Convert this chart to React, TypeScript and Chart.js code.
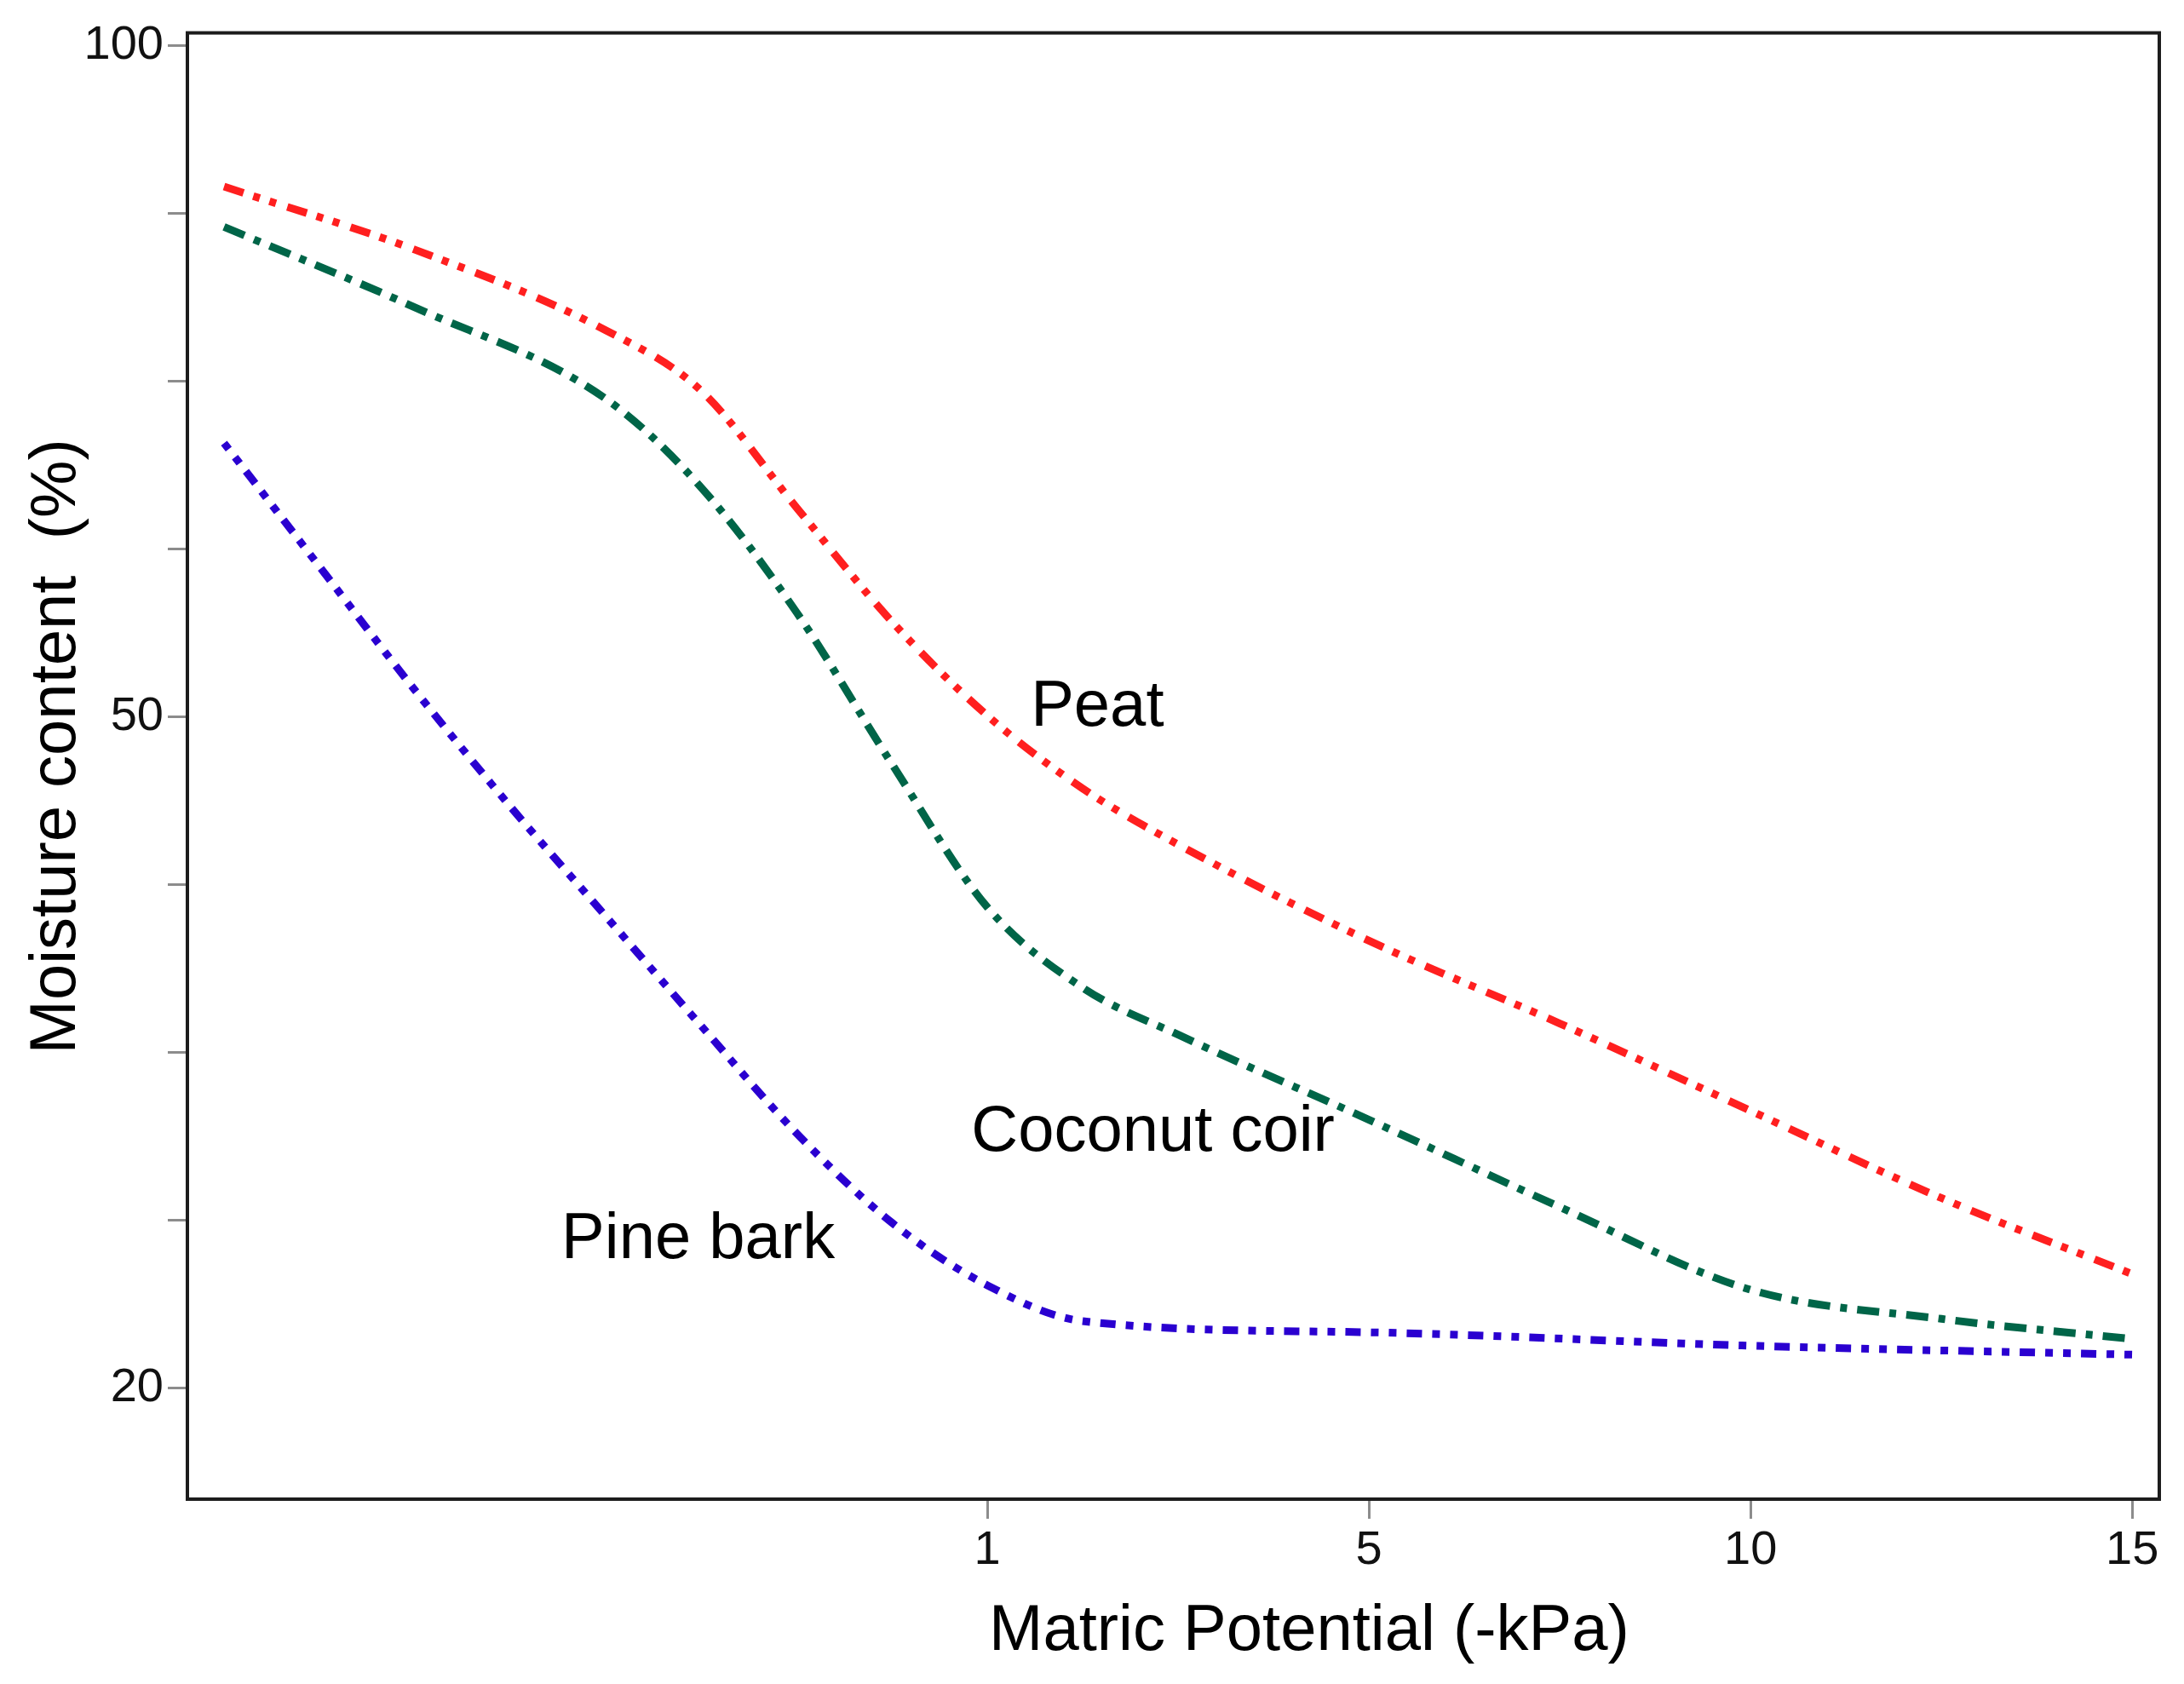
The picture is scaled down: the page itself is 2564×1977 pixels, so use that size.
import React, { useEffect, useRef } from 'react';
import { Chart, registerables } from 'chart.js';

Chart.register(...registerables);

// x positions are axis slots: slot 2 = 1 kPa, 3 = 5, 4 = 10, 5 = 15
const xTickPos = [2, 3, 4, 5];
const xTickLabels = ['1', '5', '10', '15'];

const yTickLabels = ['20', '50', '100'];

const curveX = [0, 0.5, 1, 1.25, 1.5, 1.75, 2, 2.25, 2.5, 3, 3.5, 4, 4.5, 5];
const peat = [89.5, 84.8, 78.8, 74.3, 65.6, 57.1, 50.1, 46.8, 44.3, 40.0, 36.3, 32.4, 28.5, 25.1];
const coir = [86.5, 80.5, 73.7, 67.1, 57.8, 47.9, 41.5, 37.9, 35.8, 32.0, 28.1, 24.4, 23.1, 22.2];

const pineX = [0, 0.25, 0.5, 0.75, 1, 1.25, 1.5, 1.75, 2, 2.25, 3, 4, 5];
const pine = [70.4, 61.2, 52.0, 46.0, 41.1, 36.2, 31.4, 27.4, 24.6, 23.0, 22.5, 21.9, 21.5];

const labelText = ['Peat', 'Coconut coir', 'Pine bark'];
const labelX = [2.114, 1.958, 0.884];
const labelY = [49.6, 30.6, 25.8];

const FONT = '"Liberation Sans", Arial, sans-serif';

// the y axis is split: 20..50 and 50..100 each take four tick steps
const toAxis = (v) => (v < 50 ? (v - 20) / 7.5 : 4 + (v - 50) / 12.5);

const overlay = {
    id: 'overlay',
    afterDraw(chart) {
        const { ctx, chartArea: a, scales } = chart;
        const x = scales.x;
        const y = scales.y;
        ctx.save();
        ctx.strokeStyle = '#1c1c1c';
        ctx.lineWidth = 4;
        ctx.strokeRect(a.left, a.top, a.right - a.left, a.bottom - a.top);

        ctx.fillStyle = '#000';
        ctx.font = `76px ${FONT}`;
        ctx.textBaseline = 'alphabetic';
        ctx.textAlign = 'left';
        labelText.forEach((t, i) => {
            ctx.fillText(t, x.getPixelForValue(labelX[i]), y.getPixelForValue(toAxis(labelY[i])));
        });

        ctx.fillText('Matric Potential (-kPa)', x.getPixelForValue(2) + 2, a.bottom + 177);

        ctx.translate(a.left - 132, (a.top + a.bottom) / 2 - 23);
        ctx.rotate(-Math.PI / 2);
        ctx.textAlign = 'center';
        ctx.fillText('Moisture content  (%)', 0, 0);
        ctx.restore();
    }
};

export default function App() {
    const canvasRef = useRef(null);

    useEffect(() => {
        const chart = new Chart(canvasRef.current, {
            type: 'line',
            data: {
                datasets: [
                    {
                        label: 'Peat',
                        data: curveX.map((v, i) => ({ x: v, y: toAxis(peat[i]) })),
                        borderColor: '#ff1f1f',
                        borderDash: [24, 12, 8, 12, 8, 14]
                    },
                    {
                        label: 'Coconut coir',
                        data: curveX.map((v, i) => ({ x: v, y: toAxis(coir[i]) })),
                        borderColor: '#006548',
                        borderDash: [26, 12, 8, 12]
                    },
                    {
                        label: 'Pine bark',
                        data: pineX.map((v, i) => ({ x: v, y: toAxis(pine[i]) })),
                        borderColor: '#2a00d0',
                        borderDash: [9, 12, 9, 12, 18, 12]
                    }
                ]
            },
            options: {
                animation: false,
                responsive: true,
                maintainAspectRatio: false,
                devicePixelRatio: 1,
                layout: { padding: { left: 0, right: 29, top: 28, bottom: 0 } },
                elements: {
                    point: { radius: 0 },
                    line: {
                        borderWidth: 9,
                        borderCapStyle: 'butt',
                        borderJoinStyle: 'round',
                        cubicInterpolationMode: 'monotone'
                    }
                },
                plugins: {
                    legend: { display: false },
                    tooltip: { enabled: false }
                },
                scales: {
                    x: {
                        type: 'linear',
                        min: -0.096,
                        max: 5.071,
                        afterFit: (s) => { s.height = 217; },
                        afterBuildTicks: (s) => { s.ticks = xTickPos.map((v) => ({ value: v })); },
                        ticks: {
                            autoSkip: false,
                            maxRotation: 0,
                            padding: 4,
                            color: '#111',
                            font: { size: 56, family: FONT },
                            callback: (v, i) => xTickLabels[i]
                        },
                        grid: { drawOnChartArea: false, tickLength: 23, color: '#8c8c8c', lineWidth: 3 },
                        border: { display: false }
                    },
                    y: {
                        type: 'linear',
                        min: -0.661,
                        max: 8.076,
                        afterFit: (s) => { s.width = 220; },
                        afterBuildTicks: (s) => { s.ticks = [0, 1, 2, 3, 4, 5, 6, 7, 8].map((v) => ({ value: v })); },
                        ticks: {
                            autoSkip: false,
                            padding: 5,
                            color: '#111',
                            font: { size: 56, family: FONT },
                            callback: (v, i) => (i % 4 === 0 ? yTickLabels[i / 4] : '')
                        },
                        grid: { drawOnChartArea: false, tickLength: 23, color: '#8c8c8c', lineWidth: 3 },
                        border: { display: false }
                    }
                }
            },
            plugins: [overlay]
        });

        return () => {
            chart.destroy();
        };
    }, []);

    return (
        <div style={{ position: 'absolute', left: 0, top: 0, width: 2564, height: 1977, background: '#fff' }}>
            <canvas ref={canvasRef} />
        </div>
    );
}
